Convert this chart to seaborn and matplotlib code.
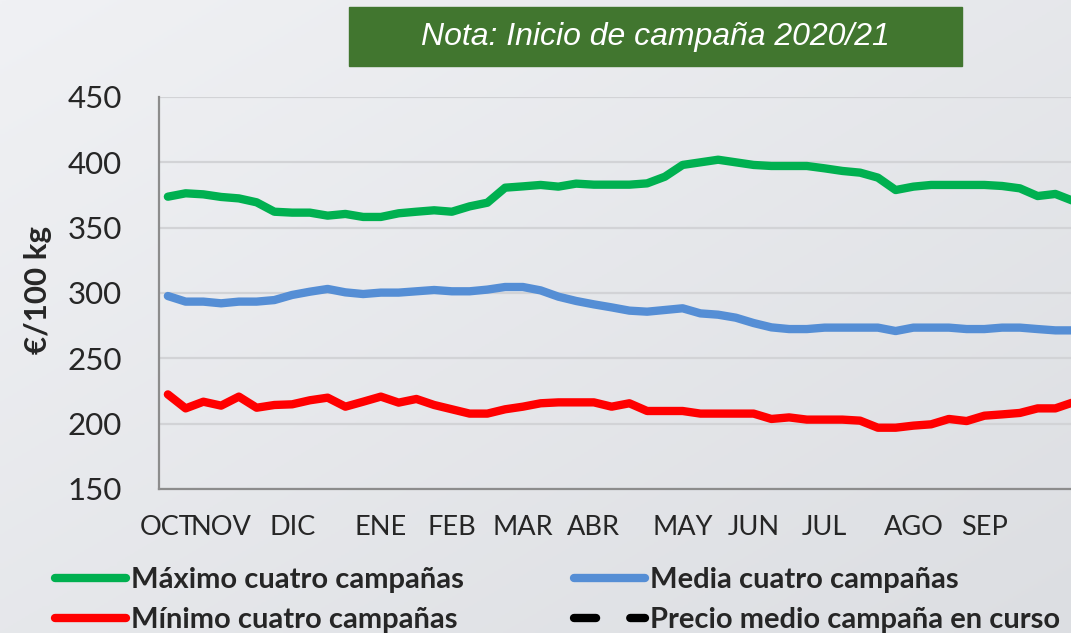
import numpy as np
import pandas as pd
import matplotlib
matplotlib.use("Agg")
import matplotlib.pyplot as plt
from matplotlib.lines import Line2D
from matplotlib.patches import Rectangle
import seaborn as sns

# weekly prices, campaign starting in October (52 weeks)
maximo = [373.7, 376.3, 375.5, 373.5, 372.4, 369.4, 362.2, 361.5, 361.5, 359.2,
          360.5, 358.2, 358.2, 361.0, 362.2, 363.3, 362.2, 366.3, 369.1, 380.6,
          381.6, 382.7, 381.4, 383.7, 382.9, 382.9, 382.9, 383.9, 389.0, 398.0,
          400.0, 402.0, 400.0, 398.0, 397.2, 397.2, 397.2, 395.4, 393.4, 392.1,
          388.3, 378.8, 381.4, 382.7, 382.7, 382.7, 382.7, 381.9, 380.1, 374.2,
          375.8, 370.5]
media = [297.7, 293.4, 293.4, 292.1, 293.4, 293.4, 294.6, 298.5, 301.0, 303.1,
         300.5, 299.2, 300.3, 300.3, 301.3, 302.3, 301.3, 301.3, 302.6, 304.6,
         304.6, 302.0, 297.2, 293.9, 291.3, 289.0, 286.5, 285.7, 287.0, 288.3,
         284.4, 283.4, 281.1, 277.0, 273.7, 272.4, 272.4, 273.5, 273.5, 273.5,
         273.5, 270.9, 273.5, 273.5, 273.5, 272.4, 272.4, 273.5, 273.5, 272.4,
         271.4, 271.4]
minimo = [222.4, 211.7, 216.8, 213.8, 220.7, 212.2, 214.3, 214.8, 217.9, 219.9,
          213.0, 216.8, 220.7, 216.1, 218.9, 214.3, 211.0, 207.7, 207.7, 211.0,
          213.0, 215.6, 216.3, 216.3, 216.3, 213.0, 215.6, 209.7, 209.7, 209.7,
          207.7, 207.7, 207.7, 207.7, 203.6, 204.8, 203.1, 203.1, 203.1, 202.3,
          196.9, 196.9, 198.5, 199.5, 203.6, 202.0, 206.1, 207.1, 208.2, 211.7,
          211.7, 216.3]
en_curso = []  # current campaign has no data yet

meses = ["OCT", "NOV", "DIC", "ENE", "FEB", "MAR", "ABR", "MAY", "JUN", "JUL", "AGO", "SEP"]
semana_mes = [0, 3, 7, 12, 16, 20, 24, 29, 33, 37, 42, 46]

series = {
    "Máximo cuatro campañas": maximo,
    "Media cuatro campañas": media,
    "Mínimo cuatro campañas": minimo,
}
colores = {
    "Máximo cuatro campañas": "#00b050",
    "Media cuatro campañas": "#558ed5",
    "Mínimo cuatro campañas": "#ff0000",
}

df = pd.concat(
    [pd.DataFrame({"semana": np.arange(len(v)), "precio": v, "serie": k}) for k, v in series.items()],
    ignore_index=True,
)

sns.set_style("white")
plt.rcParams["font.family"] = ["Lato", "DejaVu Sans"]

fig = plt.figure(figsize=(10.71, 6.33), dpi=100)
fig.patch.set_facecolor("#e6e7ea")

# soft background gradient
bg = fig.add_axes([0, 0, 1, 1], zorder=-10)
grad = np.linspace(0, 1, 256)
bg.imshow(np.add.outer(grad, grad), cmap=matplotlib.colors.LinearSegmentedColormap.from_list(
    "g", ["#f0f1f4", "#dcdee2"]), aspect="auto", extent=[0, 1, 0, 1])
bg.axis("off")

ax = fig.add_axes([159 / 1071, (633 - 489) / 633, (1082 - 159) / 1071, (489 - 97) / 633])
ax.set_facecolor("none")

sns.lineplot(data=df, x="semana", y="precio", hue="serie", palette=colores,
             hue_order=list(series.keys()), lw=6, ax=ax, legend=False,
             solid_capstyle="round", solid_joinstyle="round")
ax.plot(np.arange(len(en_curso)), en_curso, color="black", lw=6, ls=(0, (2.65, 4.1)))

ax.set_xlim(-0.5, 51.5)
ax.set_ylim(150, 450)
ax.set_yticks(range(150, 451, 50))
ax.grid(axis="y", color="#d2d3d6", lw=1.6)
ax.set_axisbelow(True)

ax.set_xticks(semana_mes)
ax.set_xticklabels(meses)
ax.set_xticks(np.arange(-0.5, 52, 1), minor=True)
ax.tick_params(axis="x", which="major", length=0, pad=19, labelsize=19.5)
ax.tick_params(axis="x", which="minor", length=6, width=1.5, color="#8c8c8c", direction="out")
ax.tick_params(axis="y", length=8.5, width=1.5, color="#8c8c8c", pad=18, labelsize=22.5)
ax.set_xlabel("")
ax.set_ylabel("")

for s in ["top", "right"]:
    ax.spines[s].set_visible(False)
for s in ["left", "bottom"]:
    ax.spines[s].set_color("#8c8c8c")
    ax.spines[s].set_linewidth(1.6)

fig.text(38 / 1071, 1 - 290 / 633, "€/100 kg", rotation=90, ha="center", va="center",
         fontsize=22.5, fontweight="bold")

# title box
fig.patches.append(Rectangle((349 / 1071, 1 - 66 / 633), (962 - 349) / 1071, 59 / 633,
                             transform=fig.transFigure, color="#41762f", zorder=5))
fig.text(655 / 1071, 1 - 37 / 633, "Nota: Inicio de campaña 2020/21", ha="center", va="center",
         fontsize=23, style="italic", color="white", family="Liberation Sans", zorder=6)

# legend
h = {k: Line2D([], [], color=c, lw=6, solid_capstyle="round") for k, c in colores.items()}
h["Precio medio campaña en curso"] = Line2D([], [], color="black", lw=6, ls=(0, (2.65, 4.1)),
                                           dash_capstyle="round")
orden = ["Máximo cuatro campañas", "Mínimo cuatro campañas",
         "Media cuatro campañas", "Precio medio campaña en curso"]
fig.legend([h[k] for k in orden], orden, ncol=2, loc="upper left",
           bbox_to_anchor=(55 / 1071, 1 - 567 / 633), frameon=False,
           prop={"weight": "bold", "size": 21}, handlelength=2.45, handletextpad=0.17,
           columnspacing=3.75, labelspacing=0.47, borderaxespad=0, borderpad=0)

fig.savefig("out.png", dpi=100, facecolor=fig.get_facecolor())
